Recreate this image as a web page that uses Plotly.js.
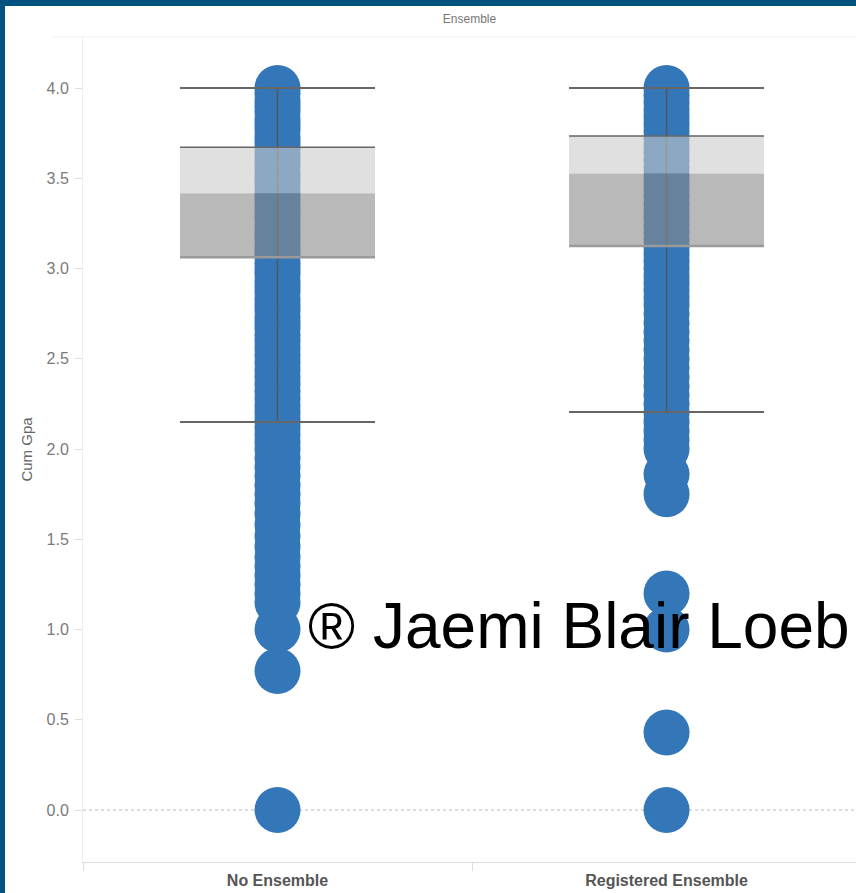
<!DOCTYPE html>
<html>
<head>
<meta charset="utf-8">
<script src="https://cdn.plot.ly/plotly-3.0.1.min.js"></script>
<style>
html, body { margin: 0; padding: 0; background: #ffffff; }
#frame { position: absolute; left: 0; top: 0; width: 856px; height: 893px; background: #00527f; overflow: hidden; }
#chart { position: absolute; left: 5px; top: 6px; width: 851px; height: 887px; background: #ffffff; }
</style>
</head>
<body>
<div id="frame"><div id="chart"></div></div>
<script>
// ---- data ----
const categories = ['No Ensemble', 'Registered Ensemble'];

const noEnsembleGpa = [4.0, 3.97, 3.93, 3.9, 3.87, 3.83, 3.8, 3.77, 3.73, 3.7, 3.67, 3.63, 3.6, 3.57, 3.53, 3.5,
  3.47, 3.43, 3.4, 3.37, 3.33, 3.3, 3.27, 3.23, 3.2, 3.17, 3.13, 3.1, 3.07, 3.03, 3.0, 2.97, 2.93, 2.9, 2.87,
  2.83, 2.8, 2.77, 2.73, 2.7, 2.67, 2.63, 2.6, 2.56, 2.52, 2.48, 2.44, 2.4, 2.36, 2.32, 2.28, 2.24, 2.2, 2.16,
  2.12, 2.08, 2.04, 2.0, 1.95, 1.9, 1.85, 1.8, 1.75, 1.7, 1.64, 1.58, 1.52, 1.46, 1.4, 1.35, 1.3, 1.25, 1.2,
  1.15, 1.0, 0.77, 0.0];

const registeredGpa = [4.0, 3.96, 3.92, 3.88, 3.84, 3.8, 3.76, 3.72, 3.68, 3.64, 3.6, 3.56, 3.52, 3.48, 3.44,
  3.4, 3.36, 3.32, 3.28, 3.24, 3.2, 3.16, 3.12, 3.08, 3.04, 3.0, 2.96, 2.92, 2.88, 2.84, 2.8, 2.75, 2.7, 2.65,
  2.6, 2.55, 2.5, 2.45, 2.4, 2.35, 2.3, 2.25, 2.2, 2.15, 2.1, 2.05, 2.0, 1.86, 1.75, 1.2, 1.0, 0.43, 0.0];

const lowerWhisker = [2.15, 2.205];
const q1 = [3.063, 3.125];
const median = [3.417, 3.527];
const q3 = [3.672, 3.734];
const upperWhisker = [4.0, 4.0];

const yTickVals = [0, 0.5, 1, 1.5, 2, 2.5, 3, 3.5, 4];
const yTickText = ['0.0', '0.5', '1.0', '1.5', '2.0', '2.5', '3.0', '3.5', '4.0'];
const chartTitle = 'Ensemble';
const yTitle = 'Cum Gpa';
const watermark = '\u00AE Jaemi Blair Loeb';

// ---- styles ----
const dotColor = 'rgb(52,119,184)';
const boxHalf = 0.2506;
const FONT = 'Liberation Sans, Arial, sans-serif';

// ---- helpers building traces from the data ----
function hLines(vals) {
  const x = [], y = [];
  vals.forEach((v, i) => { x.push(i - boxHalf, i + boxHalf, null); y.push(v, v, null); });
  return { x, y };
}
function boxPolys(lo, hi) {
  const x = [], y = [];
  lo.forEach((v, i) => {
    x.push(i - boxHalf, i + boxHalf, i + boxHalf, i - boxHalf, i - boxHalf, null);
    y.push(v, v, hi[i], hi[i], v, null);
  });
  return { x, y };
}

const traces = [];
[noEnsembleGpa, registeredGpa].forEach((vals, i) => {
  traces.push({
    type: 'scatter', mode: 'markers', name: categories[i],
    x: vals.map(() => i), y: vals,
    marker: { color: dotColor, size: 46, line: { width: 0 } },
    hovertemplate: categories[i] + '<br>Cum Gpa: %{y}<extra></extra>'
  });
});

// whisker verticals
const wx = [], wy = [];
categories.forEach((c, i) => { wx.push(i, i, null); wy.push(lowerWhisker[i], upperWhisker[i], null); });
traces.push({ type: 'scatter', mode: 'lines', x: wx, y: wy, line: { color: '#555555', width: 1.5 }, hoverinfo: 'skip' });

// whisker caps
const capU = hLines(upperWhisker), capL = hLines(lowerWhisker);
traces.push({ type: 'scatter', mode: 'lines', x: capU.x.concat(capL.x), y: capU.y.concat(capL.y),
  line: { color: '#666666', width: 2 }, hoverinfo: 'skip' });

// box halves (semi-transparent, over the dots)
const lowBox = boxPolys(q1, median);
traces.push({ type: 'scatter', mode: 'lines', x: lowBox.x, y: lowBox.y, fill: 'toself',
  fillcolor: 'rgba(139,139,139,0.6)', line: { width: 0, color: 'rgba(0,0,0,0)' }, hoverinfo: 'skip' });
const upBox = boxPolys(median, q3);
traces.push({ type: 'scatter', mode: 'lines', x: upBox.x, y: upBox.y, fill: 'toself',
  fillcolor: 'rgba(202,202,202,0.59)', line: { width: 0, color: 'rgba(0,0,0,0)' }, hoverinfo: 'skip' });

// Q3 and Q1 edges
const q3L = hLines(q3);
traces.push({ type: 'scatter', mode: 'lines', x: q3L.x, y: q3L.y, line: { color: '#666666', width: 1.5 }, hoverinfo: 'skip' });
const q1L = hLines(q1);
traces.push({ type: 'scatter', mode: 'lines', x: q1L.x, y: q1L.y, line: { color: '#9a9a9a', width: 2.5 }, hoverinfo: 'skip' });

const layout = {
  width: 851, height: 887,
  margin: { l: 78, r: 0, t: 31, b: 31, pad: 0 },
  paper_bgcolor: '#ffffff', plot_bgcolor: '#ffffff',
  font: { family: FONT, color: '#777777' },
  showlegend: false,
  title: { text: chartTitle, x: 0.5, xref: 'paper', xanchor: 'center', y: 1 - 13 / 887, yanchor: 'middle',
    font: { size: 12, color: '#777777', family: FONT } },
  xaxis: {
    range: [-0.5, 1.487], tickmode: 'array', tickvals: [0, 1], ticktext: categories,
    ticks: '', showgrid: false, zeroline: false, showline: true, linecolor: '#dddddd', linewidth: 1,
    tickfont: { size: 16, color: '#555555', family: FONT, weight: 'bold' }, ticklabelstandoff: 4,
    minor: { tickmode: 'array', tickvals: [-0.5, 0.5], ticks: 'outside', ticklen: 8, tickcolor: '#dddddd', tickwidth: 1, showgrid: false },
    fixedrange: true
  },
  yaxis: {
    range: [-0.288, 4.283], tickmode: 'array', tickvals: yTickVals, ticktext: yTickText,
    ticks: 'outside', ticklen: 7, tickcolor: '#dddddd', tickwidth: 1, ticklabelstandoff: 3,
    showgrid: false, zeroline: false, showline: true, linecolor: '#eeeeee', linewidth: 1,
    tickfont: { size: 16, color: '#7a7a7a', family: FONT },
    title: { text: yTitle, font: { size: 15, color: '#666666', family: FONT }, standoff: 10 },
    fixedrange: true
  },
  shapes: [
    { type: 'line', xref: 'paper', x0: 0, x1: 1, yref: 'y', y0: 0, y1: 0, layer: 'below',
      line: { color: '#bbbbbb', width: 1, dash: 'dot' } },
    { type: 'line', xref: 'paper', x0: -0.04, x1: 1, yref: 'paper', y0: 1, y1: 1, layer: 'below',
      line: { color: '#f2f2f2', width: 1 } }
  ],
  annotations: [
    { text: watermark, xref: 'paper', yref: 'paper', x: 0.289, y: 0.286, xanchor: 'left', yanchor: 'middle',
      showarrow: false, font: { size: 64, color: '#000000', family: FONT } }
  ]
};

Plotly.newPlot('chart', traces, layout, { displayModeBar: false, responsive: false });
</script>
</body>
</html>
